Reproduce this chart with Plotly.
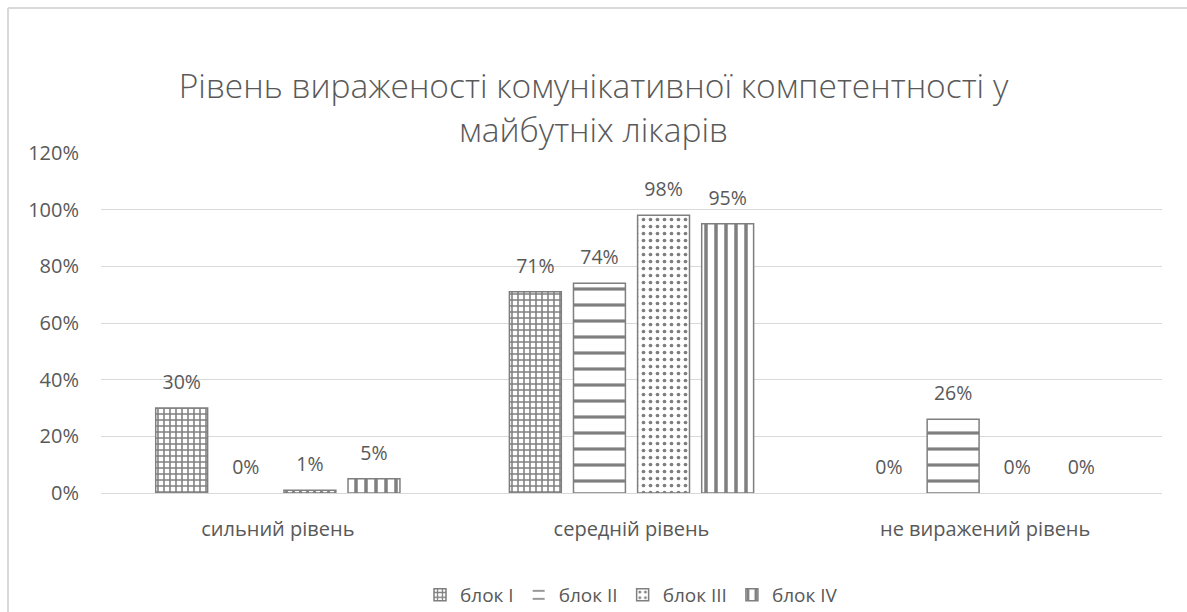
import plotly.graph_objects as go

categories = ["сильний рівень", "середній рівень", "не виражений рівень"]
series_names = ["блок I", "блок II", "блок III", "блок IV"]
blok1 = [30, 71, 0]
blok2 = [0, 74, 26]
blok3 = [1, 98, 0]
blok4 = [5, 95, 0]
series_values = [blok1, blok2, blok3, blok4]
tick_vals = [0, 20, 40, 60, 80, 100, 120]
tick_text = ["0%", "20%", "40%", "60%", "80%", "100%", "120%"]
title_text = "Рівень вираженості комунікативної компетентності у<br>майбутніх лікарів"

patterns = [
    dict(shape="+", size=6, solidity=0.45, fgcolor="black", bgcolor="white"),
    dict(shape="-", size=16, solidity=0.2, fgcolor="black", bgcolor="white"),
    dict(shape=".", size=7, solidity=0.22, fgcolor="black", bgcolor="white"),
    dict(shape="|", size=10, solidity=0.35, fgcolor="black", bgcolor="white"),
]

FONT = "Open Sans"
GREY = "#595959"

fig = go.Figure()
for name, vals, pat in zip(series_names, series_values, patterns):
    fig.add_trace(go.Bar(
        x=categories, y=vals, name=name,
        marker=dict(color="white", pattern=pat,
                    line=dict(color="#7f7f7f", width=[1.5 if v > 0 else 0 for v in vals])),
        text=[f"<span style='font-size:19.5px'>{v}%</span><br> " for v in vals],
        textposition="outside", constraintext="none",
        textfont=dict(size=10, color=GREY, family=FONT),
        cliponaxis=False,
    ))

L, R, T, B = 101, 25, 153, 119
W, H = 1187, 612
pw, ph = W - L - R, H - T - B
x0 = (8 - L) / pw
ytop = (H - B - 8) / ph

fig.update_layout(
    width=W, height=H,
    margin=dict(l=L, r=R, t=T, b=B, autoexpand=False),
    paper_bgcolor="white", plot_bgcolor="white",
    barmode="group", bargap=0.275, bargroupgap=0.19,
    font=dict(family=FONT, color=GREY, size=16),
    title=dict(text=title_text, x=0.5, xanchor="center", y=1 - 98 / H, yanchor="top",
               font=dict(size=33.5, color=GREY, family=FONT, weight=300)),
    xaxis=dict(showgrid=False, showline=True, linecolor="#D9D9D9", linewidth=1,
               tickfont=dict(size=20, color=GREY), ticks="", ticklabelstandoff=18),
    yaxis=dict(range=[0, 120], tickvals=tick_vals, ticktext=tick_text, showgrid=True,
               gridcolor="#D9D9D9", gridwidth=1, zeroline=False, showline=False,
               tickfont=dict(size=20, color=GREY), ticklabelstandoff=21),
    legend=dict(orientation="h", x=0.5, xanchor="center", yref="container",
                y=1 - 595 / H, yanchor="middle",
                font=dict(size=19, color=GREY, family=FONT), itemwidth=30, traceorder="normal"),
    showlegend=True,
    shapes=[dict(type="line", xref="paper", yref="paper", x0=x0, x1=x0, y0=-1, y1=ytop,
                 line=dict(color="#D9D9D9", width=2)),
            dict(type="line", xref="paper", yref="paper", x0=x0, x1=2, y0=ytop, y1=ytop,
                 line=dict(color="#D9D9D9", width=2))],
)

fig.write_html("out.html")
